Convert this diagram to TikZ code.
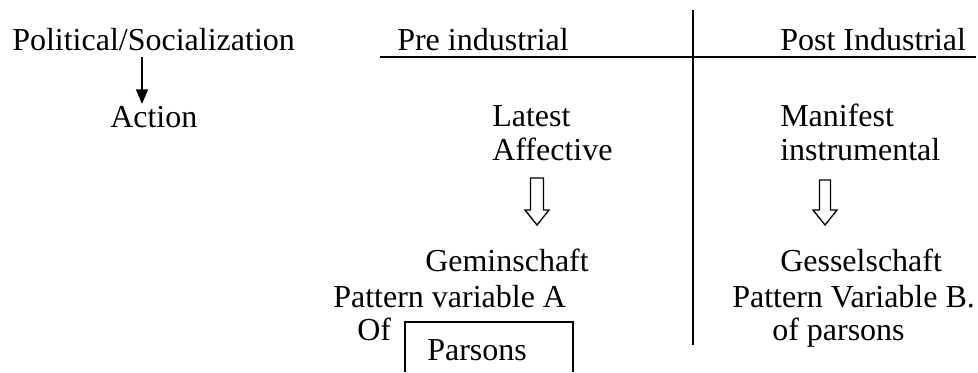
\documentclass[tikz,border=0pt]{standalone}
\usepackage{fontspec}
\setmainfont{Liberation Serif}
\usetikzlibrary{arrows.meta}
\begin{document}
\begin{tikzpicture}[x=0.75pt,y=-0.75pt,
  lbl/.style={inner sep=0pt,anchor=base west,font=\fontsize{24}{28}\selectfont},
  rule/.style={line width=1.3pt},
  hollow/.style={line width=1pt,line join=miter}]
\useasboundingbox (0,0) rectangle (978,372);
% texts
\node[lbl] (pol) at (12,50) {Political/Socialization};
\node[lbl] (act) at (110,127) {Action};
\node[lbl] (pre) at (397,50) {Pre industrial};
\node[lbl] (post) at (780,50) {Post Industrial};
\node[lbl] (lat) at (492,126) {Latest};
\node[lbl] (aff) at (492,160) {Affective};
\node[lbl] (man) at (780,126) {Manifest};
\node[lbl] (ins) at (780,160) {instrumental};
\node[lbl] (gem) at (425,271) {Geminschaft};
\node[lbl] (pva) at (333,307) {Pattern variable A};
\node[lbl] (of) at (357,340) {Of};
\node[lbl] (par) at (427,360) {Parsons};
\node[lbl] (ges) at (780,271) {Gesselschaft};
\node[lbl] (pvb) at (732,307) {Pattern Variable B.};
\node[lbl] (ofp) at (772,340) {of parsons};
% small arrow
\coordinate (a1) at (142,57);
\coordinate (a2) at (142,104);
\draw[line width=1pt,-{Triangle[width=9pt,length=11pt]}] (a1) -- (a2);
% table rules
\coordinate (h1) at (380,57);
\coordinate (h2) at (976,57);
\coordinate (v1) at (693,10);
\coordinate (v2) at (693,345);
\draw[rule] (h1) -- (h2);
\draw[rule] (v1) -- (v2);
% box around Parsons
\coordinate (b1) at (405,372);
\coordinate (b2) at (573,372);
\draw[rule] (b1) -- (405,322) -- (573,322) -- (b2);
% hollow arrows
\draw[hollow] (530.5,178) -- (530.5,210) -- (525,210) -- (537,225) -- (549,210) -- (543.5,210) -- (543.5,178) -- cycle;
\draw[hollow] (819.5,180) -- (819.5,210) -- (813,210) -- (825,225) -- (837,210) -- (830.5,210) -- (830.5,180) -- cycle;
\end{tikzpicture}
\end{document}
